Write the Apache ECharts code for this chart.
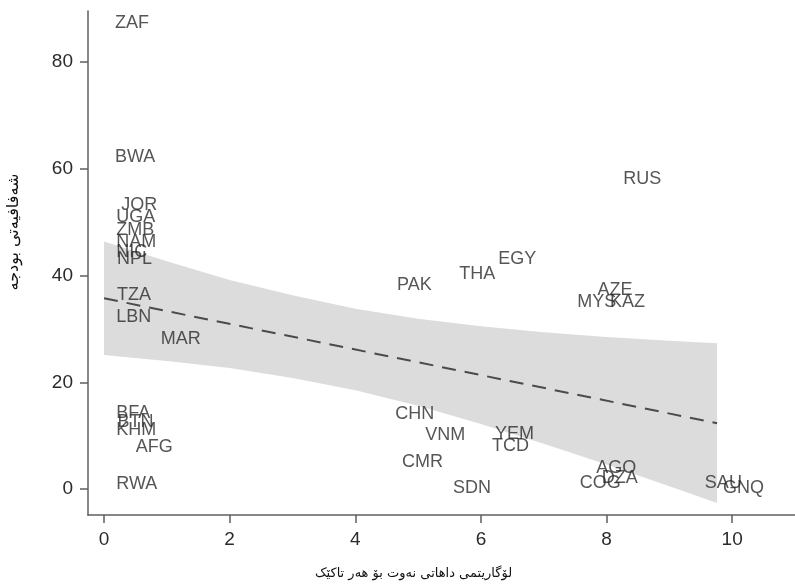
<!DOCTYPE html>
<html>
<head>
<meta charset="utf-8">
<script src="https://cdn.jsdelivr.net/npm/echarts@6/dist/echarts.min.js"></script>
<style>
html,body{margin:0;padding:0;background:#fff;}
#chart{width:795px;height:587px;}
</style>
</head>
<body>
<div id="chart"></div>
<script>
// Country labels and values
const countries = ['ZAF','BWA','JOR','UGA','ZMB','NAM','NIC','NPL','TZA','LBN','MAR','BFA','BTN','KHM','AFG','RWA','RUS','EGY','THA','PAK','AZE','MYS','KAZ','CHN','VNM','YEM','TCD','CMR','SDN','AGO','DZA','COG','SAU','GNQ'];
const logOilIncome = [0,0,0.1,0.02,0.02,0.02,0.02,0.03,0.03,0.02,0.73,0.02,0.04,0.02,0.33,0.02,8.09,6.10,5.48,4.49,7.68,7.36,7.88,4.46,4.94,6.05,6.0,4.57,5.38,7.66,7.75,7.40,9.39,9.68];
const budgetTransparency = [87.3,62.2,53.2,51.0,48.5,46.3,44.4,43.1,36.3,32.2,28.1,14.2,12.6,11.1,7.9,1.0,58.1,43.2,40.3,38.2,37.3,35.0,35.0,14.0,10.1,10.3,8.1,5.1,0.2,4.0,2.1,1.1,1.1,0.2];

// Fitted line and confidence band
const fitX = [0, 9.76];
const fitY = [35.75, 12.33];
const bandX = [0, 1, 2, 3, 4, 5, 6, 7, 8, 9, 9.76];
const bandUpper = [46.4, 42.7, 39.2, 36.3, 33.8, 31.9, 30.5, 29.4, 28.5, 27.8, 27.3];
const bandLower = [25.1, 24.0, 22.7, 20.8, 18.5, 15.6, 12.2, 8.5, 4.6, 0.5, -2.6];

// Tick labels
const xTicks = [0, 2, 4, 6, 8, 10];
const yTicks = [0, 20, 40, 60, 80];
const xTitle = 'لۆگاریتمی داهاتی نەوت بۆ هەر تاکێک';
const yTitle = 'شەفافیەتی بودجە';

const pointData = countries.map((c, i) => ({ name: c, value: [logOilIncome[i], budgetTransparency[i]] }));
const bandData = bandX.map((x, i) => [x, bandUpper[i], bandLower[i]]);
const fitData = fitX.map((x, i) => [x, fitY[i]]);

const axisColor = '#5f5f5f';
const chart = echarts.init(document.getElementById('chart'), null, { renderer: 'canvas' });
chart.setOption({
  animation: false,
  backgroundColor: '#ffffff',
  grid: { left: 88, right: 0, top: 11, bottom: 72, containLabel: false, outerBoundsMode: 'none' },
  xAxis: {
    type: 'value',
    min: -0.255,
    max: 11.0,
    name: xTitle,
    nameLocation: 'middle',
    nameGap: 52,
    nameTextStyle: { fontFamily: 'DejaVu Sans', fontSize: 13, color: '#111', padding: [0, 56, 0, 0] },
    axisLine: { show: true, onZero: false, lineStyle: { color: axisColor, width: 1.5 } },
    axisTick: { show: true, length: 8, customValues: xTicks, lineStyle: { color: axisColor, width: 1.5 } },
    axisLabel: { customValues: xTicks, margin: 15, fontFamily: 'Liberation Sans', fontSize: 19, color: '#2b2b2b' },
    splitLine: { show: false }
  },
  yAxis: {
    type: 'value',
    min: -4.87,
    max: 89.6,
    name: yTitle,
    nameLocation: 'middle',
    nameGap: 66,
    nameTextStyle: { fontFamily: 'DejaVu Sans', fontSize: 16, color: '#111', padding: [0, 0, 0, 62] },
    axisLine: { show: true, onZero: false, lineStyle: { color: axisColor, width: 1.5 } },
    axisTick: { show: true, length: 8, customValues: yTicks, lineStyle: { color: axisColor, width: 1.5 } },
    axisLabel: { customValues: yTicks, margin: 15, fontFamily: 'Liberation Sans', fontSize: 19, color: '#2b2b2b' },
    splitLine: { show: false }
  },
  series: [
    {
      type: 'custom',
      name: 'band',
      silent: true,
      z: 1,
      data: bandData,
      encode: { x: 0, y: [1, 2] },
      renderItem: function (params, api) {
        if (params.dataIndex !== 0) return null;
        const upper = bandData.map(d => api.coord([d[0], d[1]]));
        const lower = bandData.slice().reverse().map(d => api.coord([d[0], d[2]]));
        return {
          type: 'polygon',
          shape: { points: upper.concat(lower) },
          style: { fill: '#dcdcdc', stroke: null }
        };
      }
    },
    {
      type: 'line',
      name: 'fit',
      z: 2,
      data: fitData,
      symbol: 'none',
      silent: true,
      lineStyle: { color: '#4a4a4a', width: 2, type: [14, 9] }
    },
    {
      type: 'scatter',
      name: 'countries',
      z: 3,
      data: pointData,
      symbolSize: 0,
      label: {
        show: true,
        position: 'right',
        distance: 11,
        formatter: '{b}',
        fontFamily: 'Liberation Sans',
        fontSize: 18,
        color: '#2b2b2b'
      }
    }
  ]
});
</script>
</body>
</html>
